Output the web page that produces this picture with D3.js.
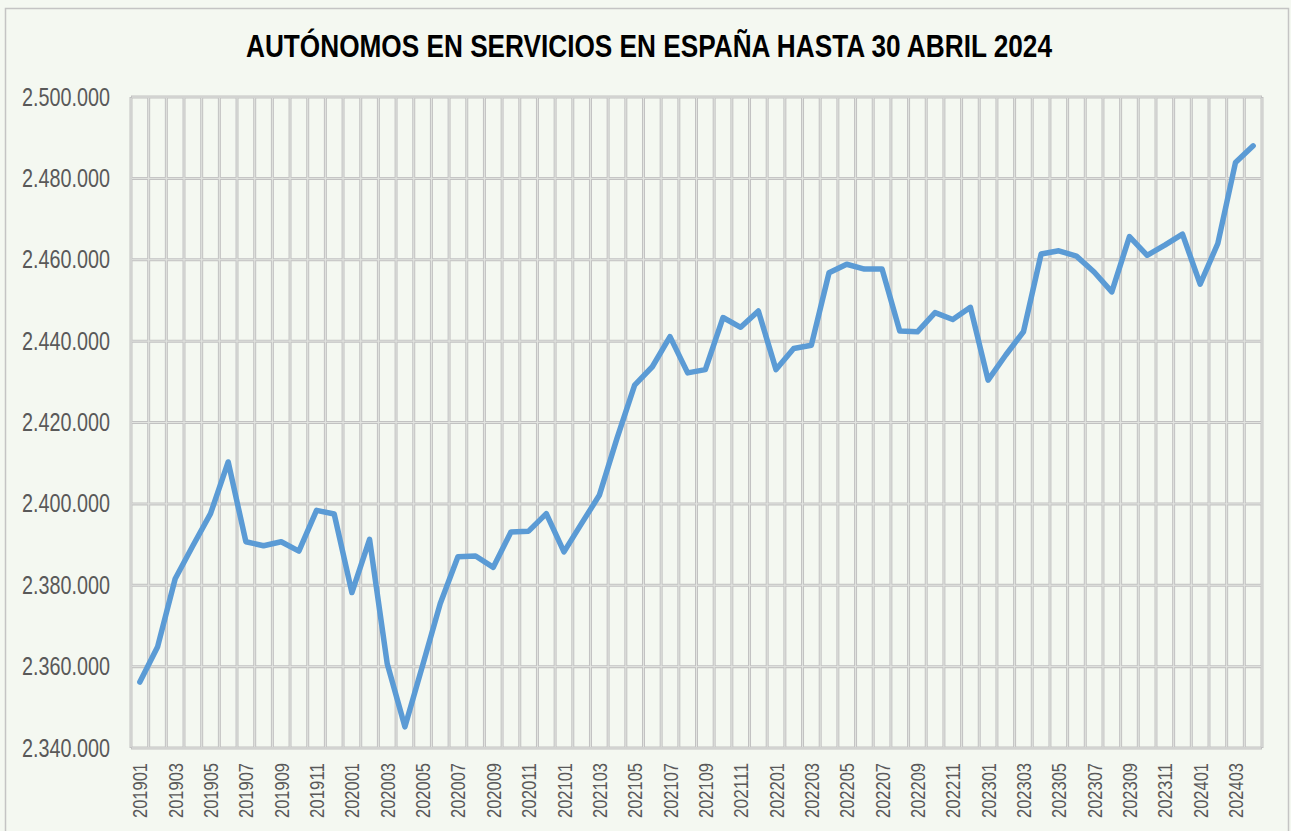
<!DOCTYPE html>
<html>
<head>
<meta charset="utf-8">
<script src="https://cdn.jsdelivr.net/npm/d3@7/dist/d3.min.js"></script>
<style>
  html, body { margin: 0; padding: 0; background: #f4f8f1; }
  svg { display: block; }
</style>
</head>
<body>
<svg id="chart" width="1291" height="831"></svg>
<script>
// Monthly periods, January 2019 to April 2024
const months = [
  "201901","201902","201903","201904","201905","201906","201907","201908","201909","201910","201911","201912",
  "202001","202002","202003","202004","202005","202006","202007","202008","202009","202010","202011","202012",
  "202101","202102","202103","202104","202105","202106","202107","202108","202109","202110","202111","202112",
  "202201","202202","202203","202204","202205","202206","202207","202208","202209","202210","202211","202212",
  "202301","202302","202303","202304","202305","202306","202307","202308","202309","202310","202311","202312",
  "202401","202402","202403","202404"
];

// Self-employed workers in services (affiliates at month end)
const autonomos = [
  2356200, 2364800, 2381600, 2389700, 2397600, 2410300, 2390700, 2389700, 2390700, 2388400, 2398400, 2397500,
  2378200, 2391300, 2360700, 2345200, 2360300, 2375500, 2387000, 2387200, 2384400, 2393100, 2393300, 2397600,
  2388200, 2395200, 2402100, 2416100, 2429200, 2433700, 2441100, 2432200, 2433000, 2445800, 2443400, 2447400,
  2433000, 2438200, 2439000, 2456800, 2458900, 2457700, 2457700, 2442500, 2442300, 2447000, 2445300, 2448300,
  2430400, 2436600, 2442300, 2461400, 2462200, 2460900, 2457000, 2452100, 2465700, 2461100, 2463600, 2466300,
  2454000, 2464000, 2483900, 2488000
];

// Value axis ticks
const yTicks = [2340000, 2360000, 2380000, 2400000, 2420000, 2440000, 2460000, 2480000, 2500000];

// Every other month is labelled on the category axis
const xLabels = months.filter((m, i) => i % 2 === 0);

const title = "AUTÓNOMOS EN SERVICIOS EN ESPAÑA HASTA 30 ABRIL 2024";

const svg = d3.select("#chart");
const W = 1291, H = 831;
const plot = { left: 131, right: 1262, top: 97, bottom: 748 };

const esFmt = d3.formatLocale({ decimal: ",", thousands: ".", grouping: [3], currency: ["", " €"] }).format(",.0f");

// Chart frame
svg.append("rect")
  .attr("x", 5.5).attr("y", 8.5)
  .attr("width", 1283).attr("height", 840)
  .attr("fill", "#f4f8f1")
  .attr("stroke", "#c4c4c4").attr("stroke-width", 1.5);

const x = d3.scaleBand().domain(months).range([plot.left, plot.right]).padding(0);
const y = d3.scaleLinear().domain([2340000, 2500000]).range([plot.bottom, plot.top]);

const grid = svg.append("g").attr("class", "grid");

// Vertical gridlines at category boundaries
const vEdges = months.map(m => x(m)).concat([x.range()[1]]);
// Horizontal gridlines at each value tick
function drawGridLine(g, x1, y1, x2, y2) {
  g.append("line").attr("x1", x1).attr("y1", y1).attr("x2", x2).attr("y2", y2)
    .attr("stroke", "#c2c2c2").attr("stroke-width", 3);
}
vEdges.forEach(v => drawGridLine(grid, v, plot.top, v, plot.bottom));
yTicks.forEach(t => drawGridLine(grid, plot.left, y(t), plot.right, y(t)));
// Lighter core of each gridline
vEdges.forEach(v => grid.append("line")
  .attr("x1", v).attr("x2", v).attr("y1", plot.top + 1).attr("y2", plot.bottom - 1)
  .attr("stroke", "#e2e4e0").attr("stroke-width", 1));
yTicks.forEach(t => grid.append("line")
  .attr("x1", plot.left + 1).attr("x2", plot.right - 1).attr("y1", y(t)).attr("y2", y(t))
  .attr("stroke", "#e2e4e0").attr("stroke-width", 1));

// Y axis labels
const yAxis = d3.axisLeft(y).tickValues(yTicks).tickFormat(esFmt).tickSize(0).tickPadding(21);
const yG = svg.append("g").attr("transform", `translate(${plot.left},0)`).call(yAxis);
yG.select(".domain").remove();
yG.selectAll("text")
  .attr("font-family", "'Liberation Sans', Arial, sans-serif")
  .attr("font-size", 25)
  .attr("fill", "#595959")
  .attr("textLength", 88)
  .attr("lengthAdjust", "spacingAndGlyphs");

// X axis labels (rotated)
const xAxis = d3.axisBottom(x).tickValues(xLabels).tickSize(0).tickPadding(0);
const xG = svg.append("g").attr("transform", `translate(0,${plot.bottom})`).call(xAxis);
xG.select(".domain").remove();
xG.selectAll("text")
  .attr("font-family", "'Liberation Sans', Arial, sans-serif")
  .attr("font-size", 21)
  .attr("fill", "#595959")
  .attr("text-anchor", "end")
  .attr("transform", "rotate(-90)")
  .attr("x", -15)
  .attr("y", 0)
  .attr("dy", "0.36em")
  .attr("textLength", 55)
  .attr("lengthAdjust", "spacingAndGlyphs");

// Series line
const line = d3.line()
  .x((d, i) => x(months[i]) + x.bandwidth() / 2)
  .y(d => y(d));

svg.append("path")
  .datum(autonomos)
  .attr("d", line)
  .attr("fill", "none")
  .attr("stroke", "#5b9bd5")
  .attr("stroke-width", 5.5)
  .attr("stroke-linejoin", "round")
  .attr("stroke-linecap", "round");

// Title
svg.append("text")
  .attr("x", 649).attr("y", 57)
  .attr("text-anchor", "middle")
  .attr("font-family", "'Liberation Sans', Arial, sans-serif")
  .attr("font-weight", "bold")
  .attr("font-size", 32)
  .attr("fill", "#000000")
  .attr("textLength", 806)
  .attr("lengthAdjust", "spacingAndGlyphs")
  .text(title);
</script>
</body>
</html>
